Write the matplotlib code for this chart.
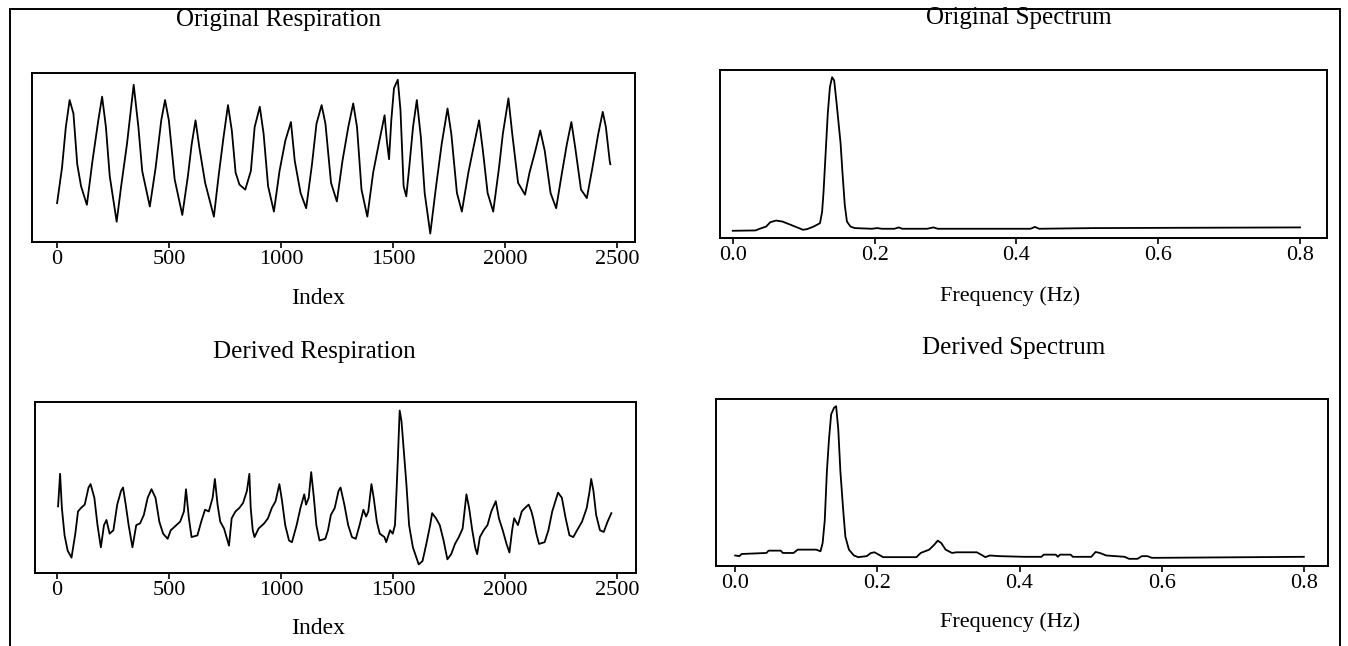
import matplotlib.pyplot as plt
from matplotlib.patches import Rectangle

# Original respiration (index, amplitude in arbitrary units)
orig_idx = [0, 22, 39, 56, 73, 90, 107, 133, 158, 184, 201, 218, 235, 266, 286, 312, 342,
            363, 380, 414, 440, 465, 482, 499, 525, 559, 584, 601, 618, 635, 661, 700, 721,
            743, 763, 780, 797, 814, 840, 865, 882, 905, 922, 942, 968, 993, 1019, 1044,
            1061, 1087, 1112, 1138, 1158, 1181, 1198, 1223, 1249, 1274, 1300, 1322, 1339,
            1359, 1385, 1411, 1436, 1462, 1472, 1482, 1492, 1504, 1521, 1533, 1547, 1559,
            1572, 1589, 1606, 1624, 1641, 1666, 1692, 1717, 1743, 1760, 1785, 1807, 1836,
            1859, 1884, 1901, 1922, 1947, 1973, 1990, 2015, 2032, 2058, 2089, 2109, 2135,
            2157, 2177, 2203, 2228, 2254, 2276, 2296, 2313, 2339, 2365, 2390, 2416, 2436,
            2450, 2467, 2470]
orig_val = [23, 44, 68, 84, 76, 46, 33, 22, 48, 72, 86, 68, 39, 12, 33, 58, 93,
            68, 42, 21, 44, 72, 84, 72, 37, 16, 39, 58, 72, 56, 35, 15, 39,
            62, 81, 66, 41, 34, 31, 42, 68, 80, 64, 33, 18, 42, 60, 71,
            48, 29, 20, 46, 70, 81, 70, 35, 24, 48, 68, 82, 68,
            31, 15, 41, 58, 75, 60, 49, 72, 91, 96, 78, 33, 27,
            44, 68, 84, 62, 29, 5, 33, 58, 79, 64, 29, 18, 41,
            56, 72, 54, 29, 18, 44, 64, 85, 64, 35, 28, 41, 54,
            66, 54, 29, 20, 41, 58, 71, 56, 31, 26, 44, 64, 77,
            68, 48, 46]

# Derived respiration
der_idx = [5, 14, 22, 34, 48, 65, 82, 94, 107, 124, 141, 150, 167, 181, 196, 210, 221, 235,
           252, 269, 286, 295, 307, 320, 337, 354, 371, 388, 405, 422, 440, 457, 474, 494,
           508, 525, 550, 567, 576, 589, 601, 627, 644, 661, 678, 695, 705, 717, 729, 746,
           768, 780, 797, 814, 831, 848, 859, 865, 874, 882, 900, 925, 942, 959, 976, 993,
           1005, 1019, 1036, 1049, 1070, 1087, 1104, 1112, 1124, 1135, 1147, 1158, 1172,
           1198, 1210, 1223, 1240, 1257, 1266, 1283, 1300, 1317, 1334, 1351, 1368, 1380,
           1390, 1404, 1414, 1428, 1441, 1462, 1470, 1487, 1499, 1509, 1516, 1521, 1530,
           1538, 1547, 1560, 1572, 1589, 1615, 1632, 1649, 1666, 1675, 1692, 1709, 1726,
           1743, 1760, 1777, 1794, 1811, 1828, 1840, 1854, 1867, 1876, 1888, 1905, 1922,
           1939, 1959, 1973, 1990, 2007, 2020, 2032, 2041, 2058, 2075, 2089, 2106, 2118,
           2126, 2140, 2152, 2177, 2194, 2211, 2237, 2254, 2271, 2288, 2305, 2322, 2344,
           2365, 2378, 2385, 2395, 2407, 2424, 2441, 2458, 2475]
der_val = [39, 58, 38, 22, 13, 9, 23, 36, 38, 40, 50, 52, 44, 28, 15, 28, 31, 23,
           25, 40, 48, 50, 40, 28, 15, 28, 29, 34, 44, 49, 44, 30, 23, 20,
           25, 27, 30, 36, 49, 32, 21, 22, 30, 37, 36, 44, 55, 40, 30, 26,
           16, 32, 36, 38, 41, 48, 58, 38, 25, 21, 26, 29, 32, 38, 42, 52,
           42, 28, 19, 18, 28, 38, 46, 40, 44, 59, 44, 28, 19,
           20, 25, 34, 38, 48, 50, 40, 28, 21, 20, 28, 37, 33,
           36, 52, 44, 30, 23, 21, 18, 25, 23, 28, 48, 64, 95,
           89, 74, 52, 28, 15, 5, 7, 17, 28, 35, 32, 28, 19,
           8, 11, 17, 21, 26, 46, 38, 25, 15, 11, 21, 25, 28,
           36, 42, 32, 25, 17, 12, 25, 32, 28, 36, 38, 40, 36,
           32, 23, 17, 18, 25, 36, 47, 44, 32, 22, 21, 25, 30,
           38, 48, 55, 48, 34, 25, 24, 30, 35]

# Original spectrum (frequency in Hz, magnitude)
orig_f = [0.0, 0.032, 0.038, 0.047, 0.053, 0.061, 0.070, 0.082, 0.099, 0.105, 0.114,
          0.123, 0.126, 0.128, 0.131, 0.134, 0.137, 0.140, 0.143, 0.146, 0.152, 0.155,
          0.158, 0.161, 0.166, 0.172, 0.196, 0.204, 0.210, 0.228, 0.234, 0.239, 0.274,
          0.283, 0.289, 0.420, 0.426, 0.432, 0.508, 0.800]
orig_mag = [4.3, 4.5, 5.5, 6.8, 9.4, 10.4, 9.8, 7.8, 4.9, 5.3, 6.8,
            8.8, 15.6, 27.3, 50.8, 74.2, 89.8, 95.7, 93.8, 82.0, 56.6, 37.1,
            19.5, 9.8, 6.8, 5.9, 5.5, 5.9, 5.5, 5.5, 6.3, 5.5, 5.5,
            6.3, 5.5, 5.5, 6.6, 5.5, 5.9, 6.3]

# Derived spectrum
der_f = [0.0, 0.006, 0.009, 0.044, 0.047, 0.064, 0.067, 0.082, 0.088, 0.114, 0.120,
         0.123, 0.126, 0.129, 0.132, 0.135, 0.139, 0.142, 0.145, 0.148, 0.152, 0.155,
         0.160, 0.167, 0.173, 0.185, 0.191, 0.196, 0.202, 0.208, 0.255, 0.261, 0.273,
         0.280, 0.285, 0.290, 0.296, 0.305, 0.311, 0.340, 0.346, 0.352, 0.358, 0.372,
         0.407, 0.431, 0.434, 0.451, 0.454, 0.457, 0.472, 0.475, 0.501, 0.507, 0.513,
         0.522, 0.548, 0.554, 0.566, 0.572, 0.580, 0.586, 0.595, 0.800]
der_mag = [6.3, 5.9, 7.2, 7.8, 9.2, 9.2, 7.8, 7.8, 9.8, 9.8, 8.8,
           13.7, 27.3, 56.6, 76.2, 90.8, 94.7, 95.7, 82.0, 56.6, 33.2, 17.6,
           9.8, 6.3, 5.3, 5.9, 7.8, 8.2, 6.8, 5.3, 5.3, 7.8, 9.8,
           12.7, 15.2, 13.7, 9.8, 7.8, 8.2, 8.2, 6.8, 5.3, 6.3, 5.9,
           5.5, 5.5, 6.8, 6.8, 5.5, 6.8, 6.8, 5.5, 5.5, 8.4, 7.8,
           6.3, 5.5, 4.3, 4.3, 5.9, 5.9, 4.9, 4.9, 5.5]

idx_ticks = [0, 500, 1000, 1500, 2000, 2500]
freq_ticks = [0.0, 0.2, 0.4, 0.6, 0.8]
freq_labels = ['0.0', '0.2', '0.4', '0.6', '0.8']

W, H = 1348, 646
plt.rcParams['font.family'] = ['Liberation Serif', 'DejaVu Serif']
fig = plt.figure(figsize=(W / 100, H / 100), dpi=100)


def box(left, top, right, bottom):
    # Pixelbox -> Figurenbruchteile
    return [left / W, 1 - bottom / H, (right - left) / W, (bottom - top) / H]


def style(ax):
    for s in ax.spines.values():
        s.set_linewidth(1.4)
    ax.set_yticks([])
    ax.tick_params(axis='x', direction='out', length=4, width=1.2, labelsize=16, pad=2)
    ax.set_ylim(0, 100)


ax1 = fig.add_axes(box(32, 73, 635, 242))
ax1.plot(orig_idx, orig_val, color='black', lw=1.3)
ax1.set_xlim(-112, 2580)
ax1.set_xticks(idx_ticks)
style(ax1)

ax2 = fig.add_axes(box(720, 70, 1327, 238))
ax2.plot(orig_f, orig_mag, color='black', lw=1.3)
ax2.set_xlim(-0.018, 0.838)
ax2.set_xticks(freq_ticks)
ax2.set_xticklabels(freq_labels)
style(ax2)

ax3 = fig.add_axes(box(35, 402, 636, 573))
ax3.plot(der_idx, der_val, color='black', lw=1.3)
ax3.set_xlim(-98, 2585)
ax3.set_xticks(idx_ticks)
style(ax3)

ax4 = fig.add_axes(box(716, 399, 1328, 566))
ax4.plot(der_f, der_mag, color='black', lw=1.3)
ax4.set_xlim(-0.027, 0.834)
ax4.set_xticks(freq_ticks)
ax4.set_xticklabels(freq_labels)
style(ax4)


def label(x, y, s, size):
    fig.text(x / W, 1 - y / H, s, ha='center', va='center', fontsize=size)


label(278, 20, 'Original Respiration', 18)
label(1019, 18, 'Original Spectrum', 18)
label(314, 352, 'Derived Respiration', 18)
label(1014, 348, 'Derived Spectrum', 18)
label(318, 298, 'Index', 17)
label(318, 628, 'Index', 17)
label(1010, 296, 'Frequency (Hz)', 16)
label(1010, 622, 'Frequency (Hz)', 16)

# Rahmen um die gesamte Abbildung
fig.add_artist(Rectangle((10 / W, -0.01), 1330 / W, 1 - 9 / H + 0.01,
                         transform=fig.transFigure, fill=False, lw=1.4, color='black'))

fig.savefig('out.png', dpi=100)
